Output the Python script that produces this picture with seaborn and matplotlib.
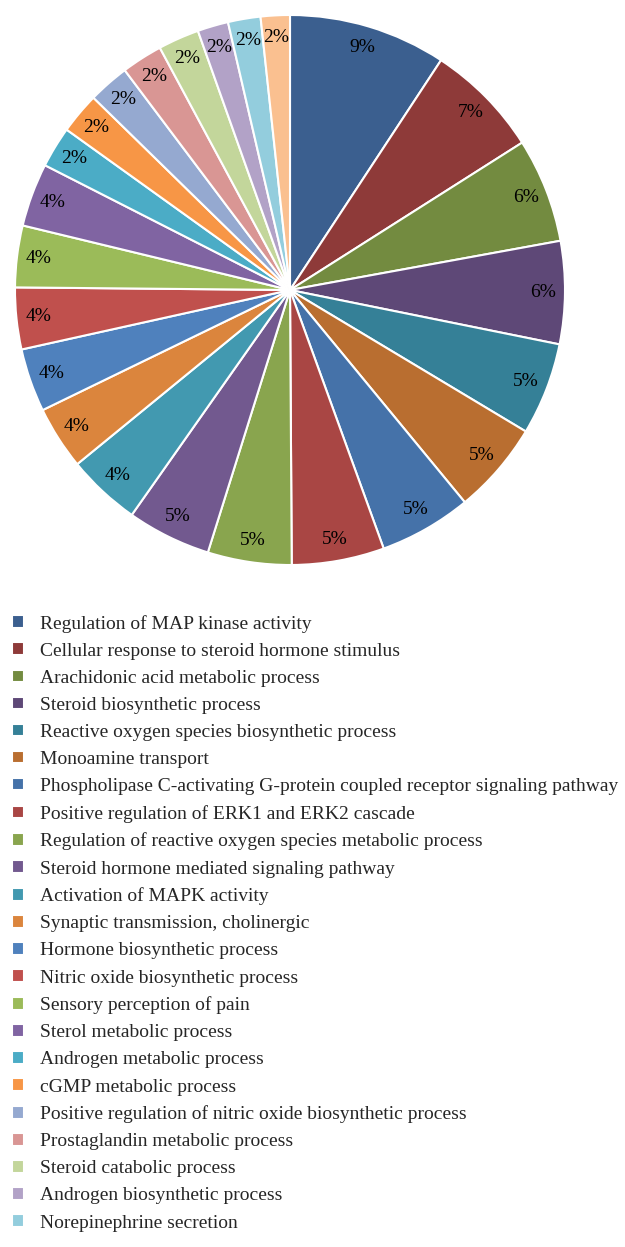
import numpy as np
import seaborn as sns
import matplotlib.pyplot as plt

# GO biological process terms and their share of genes (percent)
terms = [
    'Regulation of MAP kinase activity',
    'Cellular response to steroid hormone stimulus',
    'Arachidonic acid metabolic process',
    'Steroid biosynthetic process',
    'Reactive oxygen species biosynthetic process',
    'Monoamine transport',
    'Phospholipase C-activating G-protein coupled receptor signaling pathway',
    'Positive regulation of ERK1 and ERK2 cascade',
    'Regulation of reactive oxygen species metabolic process',
    'Steroid hormone mediated signaling pathway',
    'Activation of MAPK activity',
    'Synaptic transmission, cholinergic',
    'Hormone biosynthetic process',
    'Nitric oxide biosynthetic process',
    'Sensory perception of pain',
    'Sterol metabolic process',
    'Androgen metabolic process',
    'cGMP metabolic process',
    'Positive regulation of nitric oxide biosynthetic process',
    'Prostaglandin metabolic process',
    'Steroid catabolic process',
    'Androgen biosynthetic process',
    'Norepinephrine secretion',
    '',  # last slice, its legend entry is cut off in the original
]
shares = [9.2, 6.7, 6.1, 6.0, 5.4, 5.4, 5.4, 5.4, 4.9, 4.9, 4.3, 3.7,
          3.7, 3.6, 3.6, 3.7, 2.4, 2.4, 2.4, 2.4, 2.4, 1.8, 1.9, 1.7]

# excel-like colour cycle
colors = sns.color_palette([
    '#3b5f8f', '#8e3a39', '#738b40', '#5e4877', '#358097', '#b96e30',
    '#4572a9', '#a94644', '#89a54e', '#72598f', '#4299b0', '#db853d',
    '#4f81bd', '#c0504d', '#9bbb59', '#8064a2', '#4bacc6', '#f79646',
    '#95a9d0', '#d99694', '#c3d69b', '#b2a2c7', '#93cddd', '#fac090',
])

sns.set_theme(style='white')
plt.rcParams['font.family'] = ['Liberation Serif', 'DejaVu Serif']

fig = plt.figure(figsize=(6.25, 12.47), dpi=100)
ax = fig.add_axes([15 / 625, 1 - 565 / 1247, 550 / 625, 550 / 1247])

wedges, texts, autotexts = ax.pie(
    shares, colors=colors, startangle=90, counterclock=False,
    autopct='%.0f%%', pctdistance=0.92,
    wedgeprops=dict(edgecolor='white', linewidth=1.5),
    textprops=dict(fontsize=14, color='black'))
ax.set_xlim(-1, 1)
ax.set_ylim(-1, 1)
ax.set_aspect('equal')

# legend: only the 23 visible entries
fig.legend(wedges[:23], terms[:23], loc='upper left',
           bbox_to_anchor=(0.0, 1 - 603 / 1247), frameon=False,
           fontsize=14, handlelength=0.62, handleheight=0.62,
           handletextpad=0.85, labelspacing=0.51, borderaxespad=0.2)

fig.savefig('out.png', dpi=100, facecolor='white')
